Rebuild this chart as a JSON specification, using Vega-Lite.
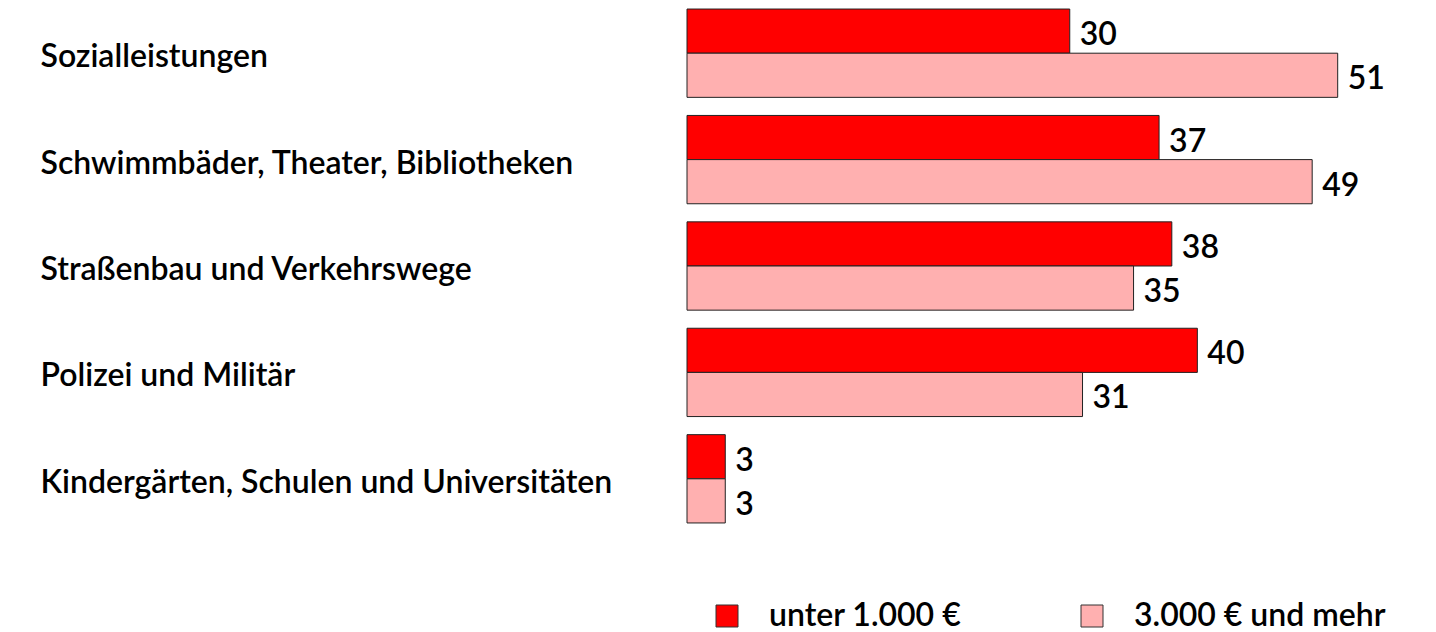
{
  "$schema": "https://vega.github.io/schema/vega-lite/v6.json",
  "autosize": "none",
  "width": 740,
  "height": 532,
  "padding": {"left": 687, "top": 0, "right": 9, "bottom": 100},
  "background": "white",
  "config": {"view": {"stroke": null}, "font": "Lato"},
  "data": {
    "values": [
      {"Kategorie": "Sozialleistungen", "Gruppe": "unter 1.000 €", "Wert": 30},
      {"Kategorie": "Sozialleistungen", "Gruppe": "3.000 € und mehr", "Wert": 51},
      {"Kategorie": "Schwimmbäder, Theater, Bibliotheken", "Gruppe": "unter 1.000 €", "Wert": 37},
      {"Kategorie": "Schwimmbäder, Theater, Bibliotheken", "Gruppe": "3.000 € und mehr", "Wert": 49},
      {"Kategorie": "Straßenbau und Verkehrswege", "Gruppe": "unter 1.000 €", "Wert": 38},
      {"Kategorie": "Straßenbau und Verkehrswege", "Gruppe": "3.000 € und mehr", "Wert": 35},
      {"Kategorie": "Polizei und Militär", "Gruppe": "unter 1.000 €", "Wert": 40},
      {"Kategorie": "Polizei und Militär", "Gruppe": "3.000 € und mehr", "Wert": 31},
      {"Kategorie": "Kindergärten, Schulen und Universitäten", "Gruppe": "unter 1.000 €", "Wert": 3},
      {"Kategorie": "Kindergärten, Schulen und Universitäten", "Gruppe": "3.000 € und mehr", "Wert": 3}
    ]
  },
  "encoding": {
    "y": {
      "field": "Kategorie",
      "type": "nominal",
      "sort": null,
      "scale": {"paddingInner": 0.17, "paddingOuter": 0.085},
      "axis": {
        "title": null,
        "domain": false,
        "ticks": false,
        "tickSize": 0,
        "grid": false,
        "labelAlign": "left",
        "labelBaseline": "middle",
        "labelPadding": 647,
        "labelOffset": 4,
        "labelLimit": 0,
        "labelFont": "Lato",
        "labelFontSize": 32,
        "labelFontWeight": 600,
        "labelColor": "#000000"
      }
    },
    "yOffset": {
      "field": "Gruppe",
      "type": "nominal",
      "sort": ["unter 1.000 €", "3.000 € und mehr"],
      "scale": {"paddingInner": 0, "paddingOuter": 0}
    },
    "x": {
      "field": "Wert",
      "type": "quantitative",
      "scale": {"domain": [0, 58], "nice": false, "zero": true},
      "axis": null
    }
  },
  "layer": [
    {
      "mark": {"type": "bar", "stroke": "#222222", "strokeWidth": 1},
      "encoding": {
        "color": {
          "field": "Gruppe",
          "type": "nominal",
          "sort": ["unter 1.000 €", "3.000 € und mehr"],
          "scale": {"domain": ["unter 1.000 €", "3.000 € und mehr"], "range": ["#FF0000", "#FFB0B0"]},
          "legend": {
            "orient": "none",
            "legendX": 24,
            "legendY": 600,
            "direction": "horizontal",
            "title": null,
            "symbolType": "square",
            "symbolSize": 484,
            "symbolStrokeColor": "#333333",
            "symbolStrokeWidth": 1,
            "labelFont": "Lato",
            "labelFontSize": 32,
            "labelFontWeight": 600,
            "labelColor": "#000000",
            "labelOffset": 26,
            "columnPadding": 114,
            "padding": 0,
            "labelLimit": 400
          }
        }
      }
    },
    {
      "mark": {"type": "text", "align": "left", "baseline": "middle", "dx": 10, "dy": 4, "font": "Lato", "fontSize": 32, "fontWeight": 600, "color": "#000000"},
      "encoding": {"text": {"field": "Wert", "type": "quantitative"}}
    }
  ]
}
